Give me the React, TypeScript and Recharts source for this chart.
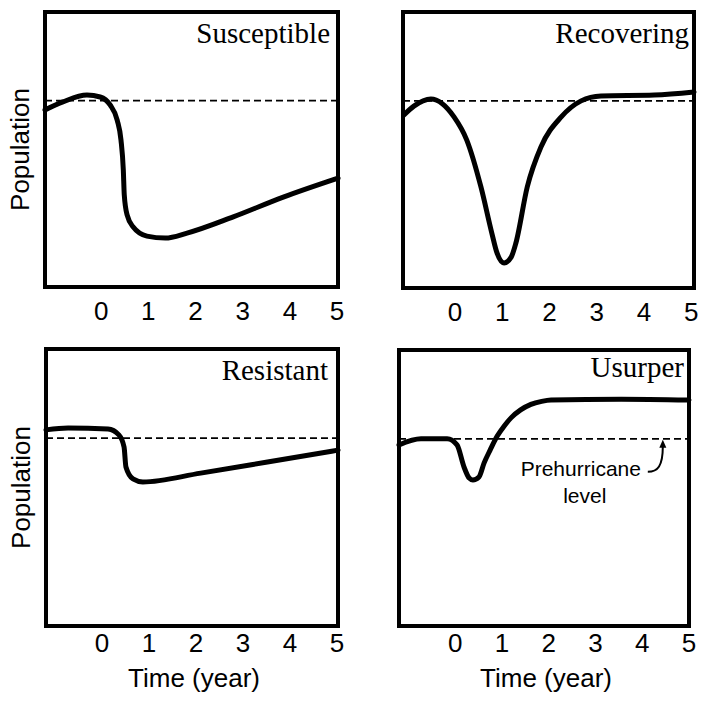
import { Label, Line, LineChart, ReferenceArea, ReferenceDot, ReferenceLine, XAxis, YAxis } from "recharts";

const yearTicks = [0, 1, 2, 3, 4, 5];
const prehurricaneLevel = 67.8;

const susceptibleYears = [-1.19, -0.81, -0.3, -0.02, 0.19, 0.34, 0.42, 0.47, 0.49, 0.55, 0.68, 0.97, 1.36, 1.82, 2.8, 3.86, 5.02];
const susceptiblePop = [64.4, 67.3, 69.8, 69.1, 66.2, 60.7, 53.5, 42.5, 33.5, 26.2, 21.8, 18.5, 17.8, 19.6, 25.5, 32.7, 39.6];

const recoveringYears = [-1.08, -0.87, -0.51, -0.02, 0.25, 0.55, 0.78, 0.89, 1.04, 1.19, 1.29, 1.53, 1.82, 2.25, 2.67, 3.09, 4.22, 5.06];
const recoveringPop = [62.7, 65.9, 68.5, 62.0, 53.6, 36.6, 19.9, 12.7, 9.1, 11.2, 16.3, 36.6, 51.1, 62.0, 67.8, 69.6, 69.9, 71.0];

const resistantYears = [-1.19, -0.72, 0.13, 0.36, 0.47, 0.51, 0.66, 0.87, 2.1, 3.52, 5.02];
const resistantPop = [70.8, 71.5, 71.1, 69.0, 64.6, 57.4, 53.1, 52.0, 55.2, 59.2, 63.5];

const usurperYears = [-1.2, -0.73, -0.17, 0.04, 0.19, 0.3, 0.38, 0.51, 0.62, 0.75, 0.9, 1.05, 1.2, 1.4, 1.62, 1.85, 2.05, 3.55, 5.0];
const usurperPop = [65.6, 67.8, 67.8, 65.6, 57.6, 53.6, 52.9, 54.0, 59.1, 63.8, 68.8, 72.5, 75.5, 78.3, 80.3, 81.4, 81.9, 82.2, 81.9];

const SANS = "'Liberation Sans', Arial, Helvetica, sans-serif";
const SERIF = "'Liberation Serif', 'Times New Roman', serif";

const toRows = (years: number[], pop: number[]) => years.map((t, i) => ({ t, v: pop[i] }));

type PanelProps = {
  title: string;
  years: number[];
  pop: number[];
  domain: [number, number];
  left: number;
  top: number;
  height: number;
  margin: { top: number; right: number; bottom: number; left: number };
  tickMargin: number;
  titleDx: number;
  titleDy: number;
  showPopulation?: boolean;
  showTime?: boolean;
  annotate?: boolean;
};

function Panel(p: PanelProps) {
  const data = toRows(p.years, p.pop);
  return (
    <div style={{ position: "absolute", left: p.left, top: p.top }}>
      <LineChart width={354} height={p.height} data={data} margin={p.margin}>
        <XAxis
          type="number"
          dataKey="t"
          domain={p.domain}
          ticks={yearTicks}
          interval={0}
          axisLine={false}
          tickLine={false}
          tickSize={0}
          tickMargin={p.tickMargin}
          height={30}
          tick={{ fill: "#000", fontSize: 26, fontFamily: SANS }}
        >
          {p.showTime && (
            <Label
              content={(lp: any) => {
                const vb = lp.viewBox;
                return (
                  <text x={vb.x + vb.width / 2 + 2} y={vb.y + 61} textAnchor="middle" fontSize={26} fontFamily={SANS} fill="#000">
                    Time (year)
                  </text>
                );
              }}
            />
          )}
        </XAxis>
        <YAxis type="number" domain={[0, 100]} hide />
        <ReferenceLine y={prehurricaneLevel} stroke="#000" strokeWidth={1.8} strokeDasharray="7 4" />
        <Line
          type="monotone"
          dataKey="v"
          stroke="#000"
          strokeWidth={5}
          strokeLinecap="round"
          dot={false}
          activeDot={false}
          isAnimationActive={false}
        />
        <ReferenceArea
          x1={p.domain[0]}
          x2={p.domain[1]}
          y1={0}
          y2={100}
          fill="none"
          fillOpacity={0}
          stroke="#000"
          strokeWidth={4}
          ifOverflow="visible"
        >
          <Label
            content={(lp: any) => {
              const vb = lp.viewBox;
              return (
                <text x={vb.x + vb.width + p.titleDx} y={vb.y + p.titleDy} textAnchor="end" fontSize={29} fontFamily={SERIF} fill="#000">
                  {p.title}
                </text>
              );
            }}
          />
          {p.showPopulation && (
            <Label
              content={(lp: any) => {
                const vb = lp.viewBox;
                const x = vb.x - 16;
                const y = vb.y + vb.height / 2;
                return (
                  <text x={x} y={y} transform={`rotate(-90 ${x} ${y})`} textAnchor="middle" fontSize={26} fontFamily={SANS} fill="#000">
                    Population
                  </text>
                );
              }}
            />
          )}
        </ReferenceArea>
        {p.annotate && (
          <ReferenceDot
            x={4.44}
            y={prehurricaneLevel}
            ifOverflow="visible"
            shape={(dp: any) => {
              const { cx, cy } = dp;
              return (
                <g>
                  <path d={`M ${cx - 15} ${cy + 33} C ${cx - 5} ${cy + 33} ${cx} ${cy + 27} ${cx} ${cy + 8}`} stroke="#000" strokeWidth={2} fill="none" />
                  <polygon points={`${cx},${cy + 1} ${cx - 3.5},${cy + 9} ${cx + 3.5},${cy + 9}`} fill="#000" />
                  <text x={cx - 82} y={cy + 37} textAnchor="middle" fontSize={21} fontFamily={SANS} fill="#000">
                    Prehurricane
                  </text>
                  <text x={cx - 78} y={cy + 64} textAnchor="middle" fontSize={21} fontFamily={SANS} fill="#000">
                    level
                  </text>
                </g>
              );
            }}
          />
        )}
      </LineChart>
    </div>
  );
}

export default function App() {
  return (
    <div style={{ position: "absolute", left: 0, top: 0, width: 708, height: 704, background: "#fff" }}>
      <Panel
        title="Susceptible"
        years={susceptibleYears}
        pop={susceptiblePop}
        domain={[-1.19, 5.02]}
        left={0}
        top={0}
        height={340}
        margin={{ top: 12, right: 16, bottom: 23, left: 45 }}
        tickMargin={15}
        titleDx={-8}
        titleDy={31}
        showPopulation
      />
      <Panel
        title="Recovering"
        years={recoveringYears}
        pop={recoveringPop}
        domain={[-1.1, 5.06]}
        left={354}
        top={0}
        height={340}
        margin={{ top: 12, right: 14, bottom: 22, left: 49 }}
        tickMargin={15}
        titleDx={-5}
        titleDy={31}
      />
      <Panel
        title="Resistant"
        years={resistantYears}
        pop={resistantPop}
        domain={[-1.19, 5.02]}
        left={0}
        top={340}
        height={364}
        margin={{ top: 9, right: 16, bottom: 48, left: 46 }}
        tickMargin={8}
        titleDx={-10}
        titleDy={31}
        showPopulation
        showTime
      />
      <Panel
        title="Usurper"
        years={usurperYears}
        pop={usurperPop}
        domain={[-1.2, 5.0]}
        left={354}
        top={340}
        height={364}
        margin={{ top: 10, right: 19, bottom: 48, left: 45 }}
        tickMargin={8}
        titleDx={-5}
        titleDy={27}
        showTime
        annotate
      />
    </div>
  );
}
